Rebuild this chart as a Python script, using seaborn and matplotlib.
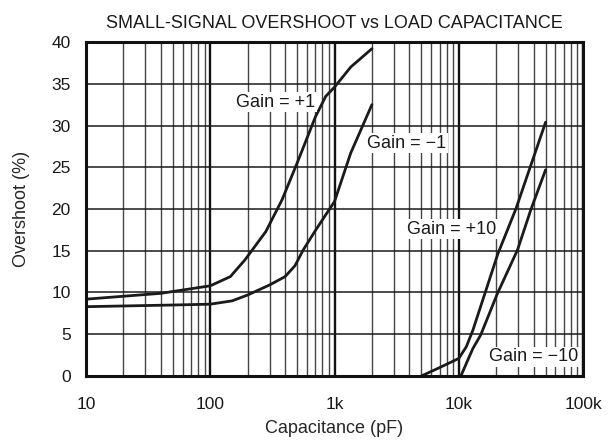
import matplotlib
matplotlib.use('Agg')
import matplotlib.pyplot as plt
import pandas as pd
import seaborn as sns
from matplotlib.ticker import FixedLocator, NullFormatter

# curves
cap_p1 = [10, 40, 100, 145, 190, 280, 378, 500, 700, 850, 1000, 1350, 2000]
ovs_p1 = [9.2, 9.9, 10.8, 11.9, 13.9, 17.3, 21.1, 25.5, 31.0, 33.5, 34.6, 37.0, 39.2]

cap_m1 = [10, 50, 100, 150, 200, 300, 400, 480, 560, 700, 1000, 1350, 2000]
ovs_m1 = [8.3, 8.5, 8.6, 9.0, 9.7, 10.9, 11.9, 13.2, 15.1, 17.4, 20.9, 26.7, 32.5]

cap_p10 = [5000, 7000, 10000, 11500, 13000, 16000, 20600, 28800, 50000]
ovs_p10 = [0.0, 1.0, 2.1, 3.5, 5.5, 9.6, 14.6, 20.0, 30.4]

cap_m10 = [10400, 11500, 13000, 15000, 20500, 29700, 38000, 50000]
ovs_m10 = [0.0, 1.5, 3.3, 4.9, 9.9, 15.1, 19.9, 24.7]

cap_flat = [10, 5000]
ovs_flat = [0.0, 0.0]

xtick_vals = [10, 100, 1000, 10000, 100000]
xtick_labels = ['10', '100', '1k', '10k', '100k']

frames = []
for name, c, o in [('+1', cap_p1, ovs_p1), ('-1', cap_m1, ovs_m1),
                   ('+10', cap_p10, ovs_p10), ('-10', cap_m10, ovs_m10),
                   ('flat', cap_flat, ovs_flat)]:
    frames.append(pd.DataFrame({'cap': c, 'ovs': o, 'gain': name}))
df = pd.concat(frames, ignore_index=True)

sns.set_style('white')
plt.rcParams['font.family'] = ['Liberation Sans', 'DejaVu Sans']
plt.rcParams['text.color'] = '#1a1a1a'

fig = plt.figure(figsize=(6.11, 4.40), dpi=100)
ax = fig.add_axes([0.1408, 0.1455, 0.8134, 0.759])

ax.set_xscale('log')
ax.set_xlim(10, 100000)
ax.set_ylim(0, 40)

# grid
minors = [m * 10 ** d for d in range(1, 5) for m in range(2, 10)]
for x in minors:
    ax.axvline(x, color='#444444', lw=1.0, zorder=1)
for x in xtick_vals:
    ax.axvline(x, color='#111111', lw=1.7, zorder=1)
for y in range(5, 40, 5):
    ax.axhline(y, color='#1a1a1a', lw=1.1, zorder=1)

sns.lineplot(data=df, x='cap', y='ovs', units='gain', estimator=None,
             color='#1a1a1a', lw=2.0, ax=ax, sort=False, zorder=3)

ax.xaxis.set_major_locator(FixedLocator(xtick_vals))
ax.set_xticklabels(xtick_labels)
ax.xaxis.set_minor_formatter(NullFormatter())
ax.set_yticks(range(0, 41, 5))
ax.tick_params(axis='both', which='both', length=0, labelsize=12.5,
               labelcolor='#1a1a1a')
ax.tick_params(axis='x', pad=15)
ax.tick_params(axis='y', pad=11)

for s in ax.spines.values():
    s.set_linewidth(2.2)
    s.set_color('#111111')
    s.set_zorder(5)

box = dict(facecolor='white', edgecolor='none', pad=1.0)
lab_kw = dict(ha='center', va='center', fontsize=13, bbox=box, zorder=4)
ax.text(337, 32.8, 'Gain = +1', **lab_kw)
ax.text(3800, 27.9, 'Gain = \u22121', **lab_kw)
ax.text(8800, 17.6, 'Gain = +10', **lab_kw)
ax.text(40000, 2.3, 'Gain = \u221210', **lab_kw)

ax.set_xlabel('Capacitance (pF)', fontsize=13)
ax.set_ylabel('Overshoot (%)', fontsize=13)
ax.xaxis.set_label_coords(0.5, -0.132)
ax.yaxis.set_label_coords(-0.113, 0.5)
ax.set_title('SMALL-SIGNAL OVERSHOOT vs LOAD CAPACITANCE', fontsize=13, pad=10)

fig.savefig('out.png', dpi=100)
